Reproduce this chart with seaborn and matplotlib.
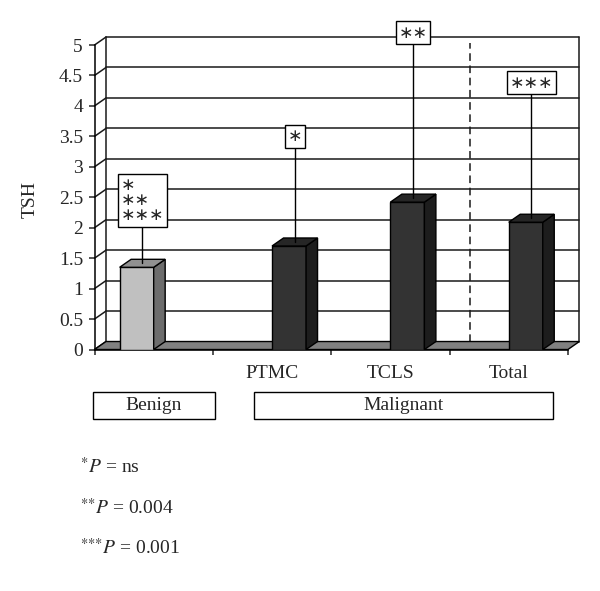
import numpy as np
import pandas as pd
import matplotlib
matplotlib.use("Agg")
import matplotlib.pyplot as plt
import matplotlib.transforms as mtransforms
from matplotlib.patches import Polygon, Rectangle
from matplotlib.colors import to_rgb
import seaborn as sns

# data
categories = ["Benign", "PTMC", "TCLS", "Total"]
groups = ["Benign", "Malignant", "Malignant", "Malignant"]
tsh_mean = [1.35, 1.70, 2.42, 2.09]
tsh_upper = [2.45, 3.50, 5.20, 4.38]
marks = ["\u2217\n\u2217\u2217\n\u2217\u2217\u2217", "\u2217", "\u2217\u2217", "\u2217\u2217\u2217"]
yticks = [0, 0.5, 1, 1.5, 2, 2.5, 3, 3.5, 4, 4.5, 5]
ytick_labels = ["0", "0.5", "1", "1.5", "2", "2.5", "3", "3.5", "4", "4.5", "5"]
xtick_labels = ["", "PTMC", "TCLS", "Total"]
group_names = ["Benign", "Malignant"]
footnotes = [r"$^{{\ast}}P$ = ns", r"$^{{\ast}{\ast}}P$ = 0.004", r"$^{{\ast}{\ast}{\ast}}P$ = 0.001"]

df = pd.DataFrame({"category": categories, "group": groups, "TSH": tsh_mean})

sns.set_style("white")
plt.rcParams["font.family"] = ["Liberation Serif", "DejaVu Sans"]
plt.rcParams["mathtext.fontset"] = "stix"
FS = 14

fig = plt.figure(figsize=(6, 5.91), dpi=100)
ax = fig.add_axes([0.1575, 0.4086, 0.789, 0.5152])

sns.barplot(data=df, x="category", y="TSH", hue="group", order=categories,
            hue_order=group_names, palette={"Benign": "#c0c0c0", "Malignant": "#333333"},
            width=0.575, dodge=True, errorbar=None, edgecolor="black",
            linewidth=1, legend=False, ax=ax)

ax.set_xlim(-0.5, 3.5)
ax.set_ylim(0, 5)

# fake 3d depth (in data units)
DX = 11.5 / 118.4
DY = 8 / 60.9
x_lo, x_hi = -0.5, 3.5
lc = "#1a1a1a"

# floor
ax.add_patch(Polygon([(x_lo, 0), (x_hi, 0), (x_hi + DX, DY), (x_lo + DX, DY)],
                     closed=True, fc="#808080", ec="black", lw=1, zorder=1, clip_on=False))

# back wall grid
for t in yticks:
    if t > 0:
        ax.plot([x_lo + DX, x_hi + DX], [t + DY, t + DY], color=lc, lw=1.1, zorder=0.5, clip_on=False)
    ax.plot([x_lo, x_lo + DX], [t, t + DY], color=lc, lw=1.1, zorder=0.5, clip_on=False)
ax.plot([x_lo + DX, x_lo + DX], [DY, 5 + DY], color=lc, lw=1.1, zorder=0.5, clip_on=False)
ax.plot([x_hi + DX, x_hi + DX], [DY, 5 + DY], color=lc, lw=1.1, zorder=0.5, clip_on=False)

# dashed divider on the back wall
ax.plot([2.575 + DX, 2.575 + DX], [DY, 4.9 + DY], color=lc, lw=1.1, ls=(0, (5, 3)),
        zorder=0.6, clip_on=False)

# 3d sides + tops for bars
bars = sorted([p for p in ax.patches if isinstance(p, Rectangle) and p.get_height() > 0],
              key=lambda p: p.get_x())
for i, p in enumerate(bars):
    p.set_zorder(3)
    x0, w, h = p.get_x(), p.get_width(), p.get_height()
    x1 = x0 + w
    c = np.array(to_rgb(p.get_facecolor()))
    ax.add_patch(Polygon([(x1, 0), (x1 + DX, DY), (x1 + DX, h + DY), (x1, h)], closed=True,
                         fc=c * 0.57, ec="black", lw=1, zorder=3, clip_on=False))
    ax.add_patch(Polygon([(x0, h), (x0 + DX, h + DY), (x1 + DX, h + DY), (x1, h)], closed=True,
                         fc=c * 0.75, ec="black", lw=1, zorder=3, clip_on=False))
    xm = x0 + w / 2 + DX / 2
    ax.plot([xm, xm], [h + DY / 2, tsh_upper[i]], color="black", lw=1, zorder=4, clip_on=False)
    ax.text(xm, tsh_upper[i], marks[i], ha="center", va="center", multialignment="left",
            family="DejaVu Sans", fontsize=12.5, linespacing=0.78, zorder=5, clip_on=False,
            bbox=dict(boxstyle="square,pad=0.15", fc="white", ec="black", lw=1))

# axes styling
for s in ["top", "right"]:
    ax.spines[s].set_visible(False)
for s in ["left", "bottom"]:
    ax.spines[s].set_color("black")
    ax.spines[s].set_linewidth(1.1)
    ax.spines[s].set_zorder(2)
ax.set_yticks(yticks)
ax.set_yticklabels(ytick_labels)
ax.tick_params(axis="y", direction="out", length=4.3, width=1.1, pad=4, labelsize=FS, left=True)
ax.set_xticks(range(len(categories)))
ax.set_xticklabels(xtick_labels)
ax.set_xticks([-0.5, 0.5, 1.5, 2.5, 3.5], minor=True)
ax.tick_params(axis="x", which="major", length=0, pad=11, labelsize=FS)
ax.tick_params(axis="x", which="minor", direction="out", length=3.6, width=1.1, bottom=True)
ax.set_xlabel("")
ax.set_ylabel("")
ax.grid(False)
fig.text(0.05, 0.662, "TSH", rotation=90, ha="center", va="center", fontsize=FS)

# group boxes under the axis
trans = mtransforms.blended_transform_factory(ax.transData, fig.transFigure)
spans = [(-0.513, 0.518), (0.847, 3.372)]
for name, (a, b) in zip(group_names, spans):
    ax.add_patch(Rectangle((a, 0.291), b - a, 0.0457, transform=trans, fc="white",
                           ec="black", lw=1, clip_on=False))
    ax.text((a + b) / 2, 0.3138, name, transform=trans, ha="center", va="center", fontsize=FS)

# footnotes
for k, txt in enumerate(footnotes):
    fig.text(0.133, [0.210, 0.140, 0.073][k], txt, ha="left", va="center", fontsize=FS)

fig.savefig("out.png", dpi=100, facecolor="white")
